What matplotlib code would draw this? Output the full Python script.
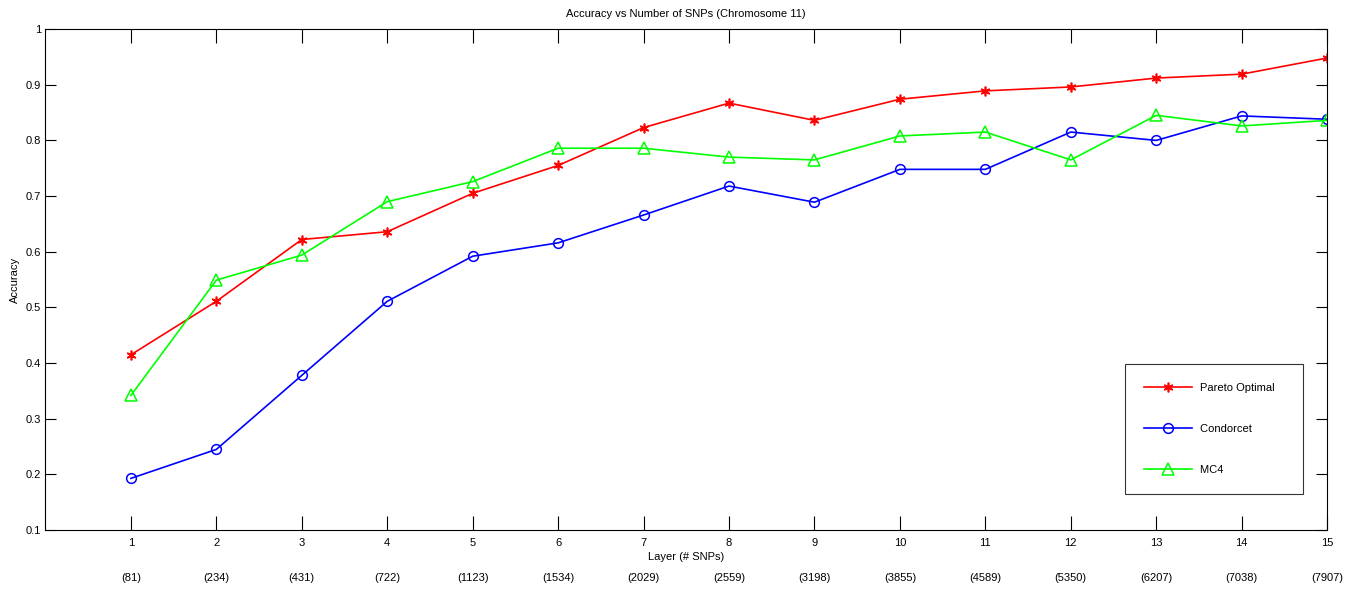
import matplotlib
matplotlib.use("Agg")
import matplotlib.pyplot as plt

plt.rcParams['font.family'] = ['Liberation Sans', 'DejaVu Sans']

layers = list(range(1, 16))
snp_counts = [81, 234, 431, 722, 1123, 1534, 2029, 2559, 3198, 3855, 4589, 5350, 6207, 7038, 7907]

pareto = [0.415, 0.511, 0.622, 0.636, 0.705, 0.755, 0.823, 0.867, 0.836, 0.874, 0.889, 0.896, 0.912, 0.919, 0.948]
condorcet = [0.193, 0.245, 0.378, 0.511, 0.592, 0.616, 0.666, 0.718, 0.689, 0.748, 0.748, 0.815, 0.800, 0.844, 0.838]
mc4 = [0.342, 0.549, 0.594, 0.690, 0.726, 0.786, 0.786, 0.770, 0.765, 0.808, 0.815, 0.765, 0.845, 0.826, 0.836]

fig = plt.figure(figsize=(13.57, 5.93), dpi=100)
ax = fig.add_axes([0.0335, 0.106, 0.9445, 0.845])

# MATLAB-style asterisk, open circle, open triangle
ax.plot(layers, pareto, '-', color='#ff0000', lw=1.2, marker=(6, 2, 0),
        ms=7, mew=1.2, label='Pareto Optimal')
ax.plot(layers, condorcet, '-', color='#0000ff', lw=1.2, marker='o',
        ms=7, mfc='none', mew=1.1, label='Condorcet')
ax.plot(layers, mc4, '-', color='#00ff00', lw=1.2, marker='^',
        ms=8, mfc='none', mew=1.1, label='MC4')

ax.set_xlim(0, 15)
ax.set_ylim(0.1, 1.0)
ax.set_xticks(layers)
ax.set_yticks([0.1, 0.2, 0.3, 0.4, 0.5, 0.6, 0.7, 0.8, 0.9, 1.0])
ax.set_yticklabels(['0.1', '0.2', '0.3', '0.4', '0.5', '0.6', '0.7', '0.8', '0.9', '1'])
ax.tick_params(axis='x', direction='in', length=10, width=0.8, top=True,
               labelsize=8, pad=6)
ax.tick_params(axis='y', direction='in', length=8, width=0.8, right=True,
               labelsize=8, pad=3)
for s in ax.spines.values():
    s.set_linewidth(0.8)

ax.set_title('Accuracy vs Number of SNPs (Chromosome 11)', fontsize=8, pad=9)
ax.set_ylabel('Accuracy', fontsize=8)
ax.yaxis.set_label_coords(-0.020, 0.5)
ax.set_xlabel('Layer (# SNPs)', fontsize=8)
ax.xaxis.set_label_coords(0.5, -0.043)

# second row of x labels: number of SNPs per layer
for x, n in zip(layers, snp_counts):
    ax.text(x, -0.096, '(%d)' % n, transform=ax.get_xaxis_transform(),
            ha='center', va='center', fontsize=8)

leg = ax.legend(loc='lower right', bbox_to_anchor=(0.981, 0.072),
                fontsize=8, frameon=True, fancybox=False, edgecolor='black',
                handlelength=4.3, labelspacing=2.8, borderpad=1.7,
                handletextpad=0.7, borderaxespad=0)
leg.get_frame().set_linewidth(0.8)
for t in leg.get_texts():
    t.set_text(t.get_text() + '   ')

fig.savefig('out.png', dpi=100)
